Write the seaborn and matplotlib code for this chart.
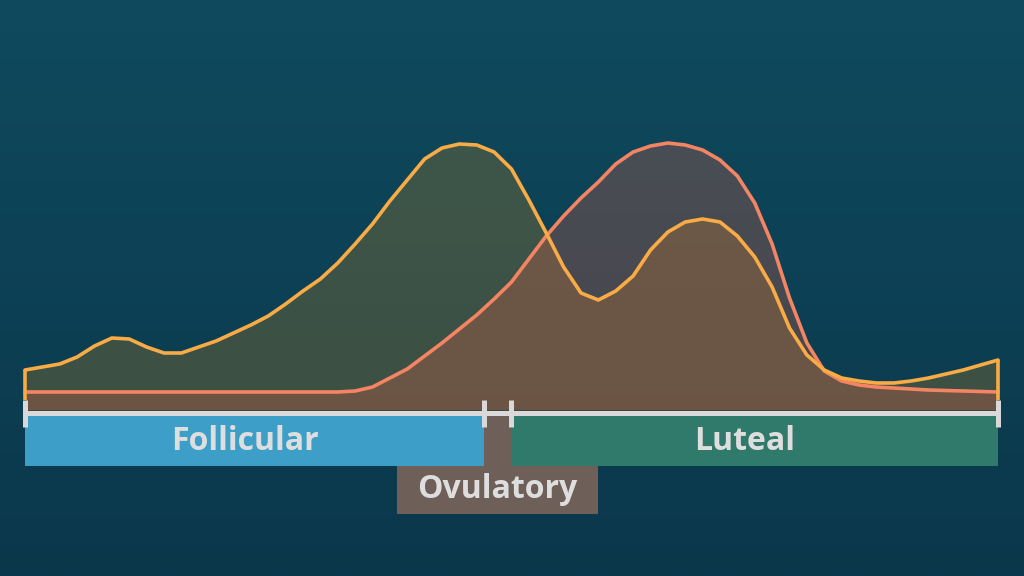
import numpy as np
import pandas as pd
import matplotlib
matplotlib.use("Agg")
import matplotlib.pyplot as plt
from matplotlib.colors import LinearSegmentedColormap
import seaborn as sns

# --- data: relative hormone levels, sampled every half day of a 28-day cycle ---
days = np.arange(0, 28.5, 0.5)

estrogen = [40, 43, 46, 53, 64, 72, 71, 63, 57, 57,
            63, 69, 77, 85, 94, 106, 119, 131, 147, 166,
            186, 209, 230, 251, 262, 266, 265, 258, 241, 210,
            177, 143, 117, 110, 119, 134, 160, 178, 188, 191,
            188, 174, 153, 123, 82, 55, 40, 32, 29, 27,
            27, 29, 32, 36, 40, 45, 50]

progesterone = [18, 18, 18, 18, 18, 18, 18, 18, 18, 18,
                18, 18, 18, 18, 18, 18, 18, 18, 18, 19,
                23, 32, 41, 54, 67, 81, 95, 111, 128, 151,
                174, 194, 212, 228, 246, 258, 264, 267, 265, 260,
                250, 234, 207, 166, 112, 67, 39, 29, 25, 23,
                22, 21, 20, 19.5, 19, 18.5, 18]

phase_names = ["Follicular", "Ovulatory", "Luteal"]
phase_start = [0, 13.2, 14.0]
phase_end = [13.2, 14.0, 28]

df = pd.DataFrame({"day": days, "estrogen": estrogen, "progesterone": progesterone})

# --- style ---
sns.set_theme(style="white")
plt.rcParams["font.family"] = ["Open Sans", "DejaVu Sans"]

bg_top, bg_bottom = "#0f4a5e", "#0b374b"
est_line, est_fill = "#f9ab45", "#cf8a1e"
pro_line, pro_fill = "#f58462", "#fa6446"
axis_col = "#d9d9d9"
text_col = "#dedede"
phase_colors = {"Follicular": "#3d9fc8", "Ovulatory": "#6e6058", "Luteal": "#2f7a6a"}

fig = plt.figure(figsize=(10.24, 5.76), dpi=100)
ax = fig.add_axes([0, 0, 1, 1])
xlim = (-0.719, 28.748)
ylim = (-166, 410)

# background gradient
grad = np.linspace(0, 1, 256).reshape(-1, 1)
cmap = LinearSegmentedColormap.from_list("bg", [bg_top, bg_bottom])
ax.imshow(grad, extent=[xlim[0], xlim[1], ylim[0], ylim[1]], aspect="auto",
          cmap=cmap, origin="upper", zorder=0)

# filled hormone areas
ax.fill_between(df["day"], 0, df["estrogen"], color=est_fill, alpha=0.25, lw=0, zorder=1)
ax.fill_between(df["day"], 0, df["progesterone"], color=pro_fill, alpha=0.25, lw=0, zorder=1)

sns.lineplot(data=df, x="day", y="progesterone", ax=ax, color=pro_line, lw=2.6, zorder=3,
             solid_joinstyle="round", solid_capstyle="round")
sns.lineplot(data=df, x="day", y="estrogen", ax=ax, color=est_line, lw=2.6, zorder=4,
             solid_joinstyle="round", solid_capstyle="round")
ax.vlines([days[0], days[-1]], 10, [estrogen[0], estrogen[-1]], color=est_line, lw=2.6, zorder=4)

# phase bars
for name, s, e in zip(phase_names, phase_start, phase_end):
    ax.bar(s, 51, width=e - s, bottom=-56, align="edge", color=phase_colors[name],
           lw=0, zorder=2)
    mid = (s + e) / 2
    if name == "Ovulatory":
        ax.bar(mid - 2.9, 48, width=5.8, bottom=-104, align="edge",
               color=phase_colors[name], lw=0, zorder=2)
        ax.text(mid, -80, name, ha="center", va="center", fontsize=23,
                fontweight="bold", color=text_col, zorder=5)
    else:
        ax.text(mid - 0.28, -31, name, ha="center", va="center", fontsize=23,
                fontweight="bold", color=text_col, zorder=5)

# axis line with phase boundary ticks
ax.hlines(-2.5, phase_start[0], phase_end[-1], color=axis_col, lw=3.6, zorder=5)
ax.vlines(phase_start + [phase_end[-1]], -17, 10, color=axis_col, lw=3.6, zorder=5)

ax.set_xlim(*xlim)
ax.set_ylim(*ylim)
ax.set_xlabel("")
ax.set_ylabel("")
ax.axis("off")

plt.savefig("out.png", dpi=100)
plt.close()
